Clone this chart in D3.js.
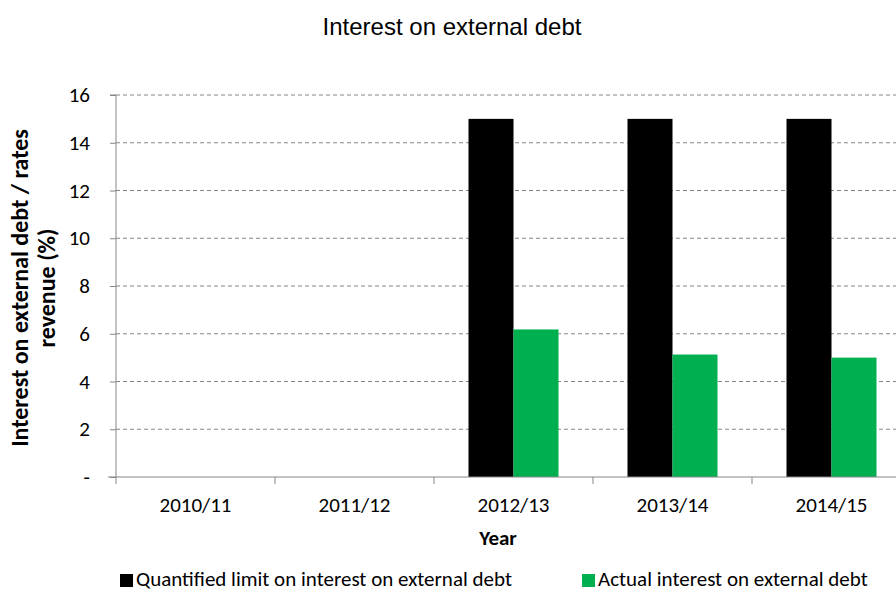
<!DOCTYPE html>
<html>
<head>
<meta charset="utf-8">
<script src="https://cdn.jsdelivr.net/npm/d3@7"></script>
<style>
  body { margin: 0; background: #fff; }
  svg { display: block; }
</style>
</head>
<body>
<svg id="chart"></svg>
<script>
var years = ["2010/11", "2011/12", "2012/13", "2013/14", "2014/15"];
var limitValues = [null, null, 15, 15, 15];
var actualValues = [null, null, 6.18, 5.13, 5.0];
var seriesNames = ["Quantified limit on interest on external debt", "Actual interest on external debt"];
var seriesColors = ["#000000", "#00b050"];
var yTicks = [0, 2, 4, 6, 8, 10, 12, 14, 16];

var width = 896, height = 592;
var bodyFont = "Carlito, Calibri, Lato, sans-serif";
var svg = d3.select("#chart").attr("width", width).attr("height", height);

var plotLeft = 116, plotRight = 911, plotTop = 95, plotBottom = 477;

var x0 = d3.scaleBand().domain(years).range([plotLeft, plotRight])
    .paddingInner(69 / 159).paddingOuter(69 / 159 / 2);
var x1 = d3.scaleBand().domain([0, 1]).range([0, x0.bandwidth()]);
var y = d3.scaleLinear().domain([0, 16]).range([plotBottom, plotTop]);

// dashed gridlines
svg.append("g")
    .selectAll("line")
    .data(yTicks.filter(d => d > 0))
    .join("line")
    .attr("x1", plotLeft).attr("x2", plotRight)
    .attr("y1", d => y(d)).attr("y2", d => y(d))
    .attr("stroke", "#868686")
    .attr("stroke-width", 1)
    .attr("stroke-dasharray", "4,3");

// bars
var table = years.map((yr, i) => ({ year: yr, vals: [limitValues[i], actualValues[i]] }));
svg.append("g")
    .selectAll("g")
    .data(table)
    .join("g")
    .attr("transform", d => `translate(${x0(d.year)},0)`)
    .selectAll("rect")
    .data(d => d.vals.map((v, k) => ({ k: k, v: v })).filter(e => e.v != null))
    .join("rect")
    .attr("x", e => x1(e.k))
    .attr("width", x1.bandwidth())
    .attr("y", e => y(e.v))
    .attr("height", e => y(0) - y(e.v))
    .attr("fill", e => seriesColors[e.k]);

// y axis
var yAxis = d3.axisLeft(y).tickValues(yTicks).tickSize(6).tickPadding(20)
    .tickFormat(d => d === 0 ? "-" : d);
var yg = svg.append("g").attr("transform", `translate(${plotLeft},0)`).call(yAxis);
yg.select(".domain").attr("stroke", "#868686").attr("d", `M-6,${plotTop}H0V${plotBottom}`);
yg.selectAll(".tick line").attr("stroke", "#868686");
yg.selectAll(".tick text").attr("fill", "#000").style("font-family", bodyFont).style("font-size", "21px");

// x axis: ticks at category boundaries
var xg = svg.append("g").attr("transform", `translate(0,${plotBottom})`);
xg.append("line").attr("x1", plotLeft - 8).attr("x2", plotRight).attr("y1", 0).attr("y2", 0)
    .attr("stroke", "#868686");
xg.selectAll(".xt")
    .data(years)
    .join("line")
    .attr("class", "xt")
    .attr("x1", d => x0(d) - x0.step() * x0.paddingOuter())
    .attr("x2", d => x0(d) - x0.step() * x0.paddingOuter())
    .attr("y1", 0).attr("y2", 7)
    .attr("stroke", "#868686");
xg.selectAll(".xl")
    .data(years)
    .join("text")
    .attr("class", "xl")
    .attr("x", d => x0(d) + x0.bandwidth() / 2)
    .attr("y", 35)
    .attr("text-anchor", "middle")
    .style("font-family", bodyFont)
    .style("font-size", "21px")
    .text(d => d);

// title
svg.append("text")
    .attr("x", 452).attr("y", 35)
    .attr("text-anchor", "middle")
    .style("font-family", "'Liberation Sans', Arial, sans-serif")
    .style("font-size", "24px")
    .text("Interest on external debt");

// axis titles
svg.append("text")
    .attr("x", 498).attr("y", 545)
    .attr("text-anchor", "middle")
    .style("font-family", bodyFont)
    .style("font-size", "21px")
    .style("font-weight", "bold")
    .text("Year");

var yt = svg.append("text")
    .attr("transform", "translate(0,288) rotate(-90)")
    .attr("text-anchor", "middle")
    .style("font-family", bodyFont)
    .style("font-size", "24px")
    .style("font-weight", "bold");
yt.append("tspan").attr("x", 0).attr("y", 28).text("Interest on external debt / rates");
yt.append("tspan").attr("x", 0).attr("y", 55).text("revenue (%)");

// legend
var legendX = [120, 582];
var lg = svg.append("g").selectAll("g")
    .data(seriesNames)
    .join("g")
    .attr("transform", (d, i) => `translate(${legendX[i]},574)`);
lg.append("rect").attr("width", 13).attr("height", 13).attr("fill", (d, i) => seriesColors[i]);
lg.append("text")
    .attr("x", 16).attr("y", 12)
    .style("font-family", bodyFont)
    .style("font-size", "21px")
    .text(d => d);
</script>
</body>
</html>
